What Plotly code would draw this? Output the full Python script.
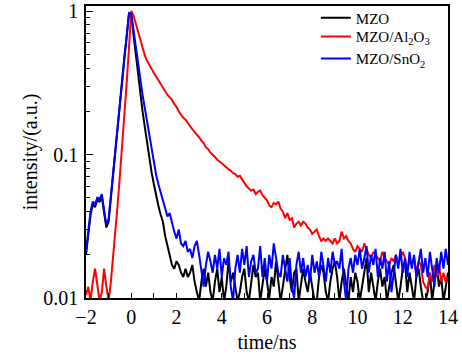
import numpy as np
import plotly.graph_objects as go

time_ns = [round(v, 1) for v in np.arange(-2.0, 14.05, 0.1)]

mzo = [
    0.020, 0.027, 0.038, 0.045, 0.043, 0.048, 0.047, 0.050, 0.040, 0.031,
    0.034, 0.050, 0.076, 0.115, 0.165, 0.24, 0.35, 0.49, 0.67, 0.96,
    0.93, 0.68, 0.48, 0.35, 0.26, 0.20, 0.155, 0.12, 0.093, 0.075,
    0.062, 0.051, 0.044, 0.038, 0.034, 0.027, 0.023, 0.020, 0.017, 0.016,
    0.018, 0.017, 0.015, 0.014, 0.016, 0.014, 0.015, 0.017, 0.013, 0.011,
    0.0095, 0.013, 0.016, 0.012, 0.015, 0.011,
    0.0095, 0.013, 0.016, 0.011, 0.014, 0.0095, 0.012, 0.018, 0.013, 0.015,
    0.012, 0.0095, 0.011, 0.014, 0.016, 0.011, 0.0095, 0.013, 0.017, 0.014,
    0.015, 0.0095, 0.012, 0.016, 0.013, 0.010, 0.014, 0.012, 0.018, 0.013,
    0.0095, 0.012, 0.015, 0.020, 0.014, 0.011, 0.015, 0.016, 0.0095, 0.012,
    0.016, 0.013, 0.011, 0.015, 0.012, 0.0095, 0.0095, 0.014, 0.017, 0.015,
    0.011, 0.0095, 0.013, 0.016, 0.018, 0.014, 0.0095, 0.013, 0.016, 0.012,
    0.0095, 0.014, 0.011, 0.015, 0.013, 0.0095, 0.012, 0.016, 0.019, 0.011,
    0.015, 0.012, 0.0095, 0.013, 0.016, 0.012, 0.014, 0.0095, 0.012, 0.015,
    0.017, 0.013, 0.0095, 0.012, 0.016, 0.018, 0.011, 0.015, 0.012, 0.0095,
    0.014, 0.016, 0.012, 0.0095, 0.0095, 0.011, 0.015, 0.0095, 0.013, 0.017,
    0.012, 0.014, 0.0095, 0.012, 0.015,
]

mzo_al2o3 = [
    0.0105, 0.012, 0.0095, 0.013, 0.016, 0.012, 0.0095, 0.011, 0.016, 0.012,
    0.0095, 0.013, 0.019, 0.029, 0.045, 0.072, 0.115, 0.19, 0.32, 0.55,
    1.0, 0.93, 0.82, 0.72, 0.63, 0.55, 0.49, 0.45, 0.42, 0.39,
    0.37, 0.35, 0.33, 0.305, 0.29, 0.275, 0.26, 0.25, 0.24, 0.225,
    0.215, 0.20, 0.19, 0.18, 0.175, 0.165, 0.158, 0.150, 0.143, 0.138,
    0.132, 0.125, 0.120, 0.112, 0.109, 0.103, 0.100, 0.096, 0.092, 0.090,
    0.087, 0.084, 0.081, 0.079, 0.077, 0.074, 0.073, 0.070, 0.071, 0.067,
    0.064, 0.060, 0.058, 0.056, 0.057, 0.053, 0.055, 0.056, 0.052, 0.050,
    0.048, 0.044, 0.043, 0.046, 0.045, 0.047, 0.042, 0.040, 0.036, 0.039,
    0.035, 0.036, 0.031, 0.033, 0.034, 0.032, 0.034, 0.033, 0.031, 0.030,
    0.028, 0.029, 0.030, 0.027, 0.025, 0.026, 0.025, 0.026, 0.025, 0.024,
    0.026, 0.024, 0.025, 0.029, 0.026, 0.027, 0.025, 0.024, 0.022, 0.021,
    0.023, 0.022, 0.021, 0.024, 0.022, 0.020, 0.019, 0.021, 0.020, 0.019,
    0.018, 0.021, 0.019, 0.018, 0.017, 0.019, 0.018, 0.020, 0.017, 0.019,
    0.021, 0.019, 0.016, 0.018, 0.017, 0.019, 0.015, 0.018, 0.017, 0.013,
    0.012, 0.0115, 0.015, 0.013, 0.017, 0.014, 0.017, 0.013, 0.015, 0.013,
    0.014,
]

mzo_sno2 = [
    0.021, 0.028, 0.040, 0.047, 0.045, 0.050, 0.049, 0.053, 0.042, 0.032,
    0.036, 0.052, 0.080, 0.12, 0.17, 0.25, 0.36, 0.50, 0.68, 0.97,
    0.96, 0.74, 0.55, 0.42, 0.33, 0.26, 0.21, 0.17, 0.135, 0.11,
    0.088, 0.072, 0.062, 0.055, 0.047, 0.043, 0.037, 0.039, 0.033, 0.029,
    0.026, 0.030, 0.024, 0.023, 0.025, 0.021, 0.022, 0.019, 0.023, 0.025,
    0.020, 0.016, 0.012, 0.017, 0.021, 0.018,
    0.015, 0.020, 0.016, 0.022, 0.014, 0.019, 0.017, 0.021, 0.012, 0.0095,
    0.016, 0.020, 0.015, 0.022, 0.017, 0.023, 0.014, 0.018, 0.020, 0.015,
    0.016, 0.023, 0.014, 0.019, 0.013, 0.020, 0.016, 0.024, 0.019, 0.015,
    0.014, 0.020, 0.016, 0.013, 0.019, 0.012, 0.010, 0.017, 0.021, 0.015,
    0.019, 0.014, 0.017, 0.013, 0.020, 0.015, 0.018, 0.014, 0.021, 0.016,
    0.013, 0.019, 0.015, 0.021, 0.017, 0.018, 0.016, 0.022, 0.013, 0.0095,
    0.016, 0.019, 0.015, 0.020, 0.017, 0.022, 0.016, 0.019, 0.023, 0.015,
    0.020, 0.017, 0.022, 0.014, 0.019, 0.016, 0.021, 0.013, 0.018, 0.011,
    0.015, 0.020, 0.016, 0.022, 0.015, 0.019, 0.014, 0.021, 0.016, 0.020,
    0.014, 0.018, 0.022, 0.015, 0.019, 0.014, 0.021, 0.016, 0.012, 0.019,
    0.015, 0.021, 0.016, 0.022, 0.017,
]

for name, s in [("mzo", mzo), ("al", mzo_al2o3), ("sn", mzo_sno2)]:
    if len(s) != len(time_ns):
        raise ValueError(f"{name}: {len(s)} vs {len(time_ns)}")

series_names = ["MZO", "MZO/Al<sub>2</sub>O<sub>3</sub>", "MZO/SnO<sub>2</sub>"]
series_colors = ["#000000", "#ff0000", "#0000ff"]
x_tickvals = [-2, 0, 2, 4, 6, 8, 10, 12, 14]
y_tickvals = [0.01, 0.1, 1]
y_ticktext = ["0.01", "0.1", "1"]
y_minor = [0.02, 0.03, 0.04, 0.05, 0.06, 0.07, 0.08, 0.09,
           0.2, 0.3, 0.4, 0.5, 0.6, 0.7, 0.8, 0.9]

legend_ids = ["legend", "legend2", "legend3"]
legend_y = [0.959, 0.895, 0.819]

fig = go.Figure()
for name, ys, col, lid in zip(series_names, [mzo, mzo_al2o3, mzo_sno2],
                              series_colors, legend_ids):
    fig.add_trace(go.Scatter(x=time_ns, y=ys, mode="lines", name=name,
                             legend=lid, showlegend=True,
                             line=dict(color=col, width=2)))

font_family = "Liberation Serif"
legend_common = dict(x=0.635, xanchor="left", yanchor="middle", visible=True,
                     font=dict(size=15, family=font_family),
                     bgcolor="rgba(0,0,0,0)", borderwidth=0, itemwidth=30)
legend_layout = {lid: dict(y=ly, **legend_common) for lid, ly in zip(legend_ids, legend_y)}

fig.update_layout(
    width=462, height=355,
    margin=dict(l=86, r=14, t=6, b=57, autoexpand=False),
    paper_bgcolor="white", plot_bgcolor="white",
    showlegend=True,
    font=dict(family=font_family, size=20, color="black"),
    **legend_layout,
    xaxis=dict(range=[-2, 14], tickvals=x_tickvals, ticks="inside", ticklen=5,
               tickwidth=1, tickcolor="black", showline=True, linecolor="black",
               linewidth=1.5, mirror=True, showgrid=False, zeroline=False,
               ticklabelstandoff=0, automargin=False,
               tickfont=dict(family=font_family, size=20),
               minor=dict(dtick=1, ticks="inside", ticklen=5, tickcolor="black"),
               title=dict(text="time/ns", standoff=8,
                          font=dict(family=font_family, size=20))),
    yaxis=dict(type="log", range=[-2, 0.035], tickvals=y_tickvals, ticktext=y_ticktext,
               ticks="inside", ticklen=7, tickwidth=1, tickcolor="black",
               showline=True, linecolor="black", linewidth=1.5, mirror=True,
               showgrid=False, zeroline=False, ticklabelstandoff=2, automargin=False,
               tickfont=dict(family=font_family, size=20),
               minor=dict(tickvals=y_minor, ticks="inside", ticklen=4, tickcolor="black"),
               title=dict(text="intensity/(a.u.)", standoff=0,
                          font=dict(family=font_family, size=20))),
)

fig.write_html("out.html")
